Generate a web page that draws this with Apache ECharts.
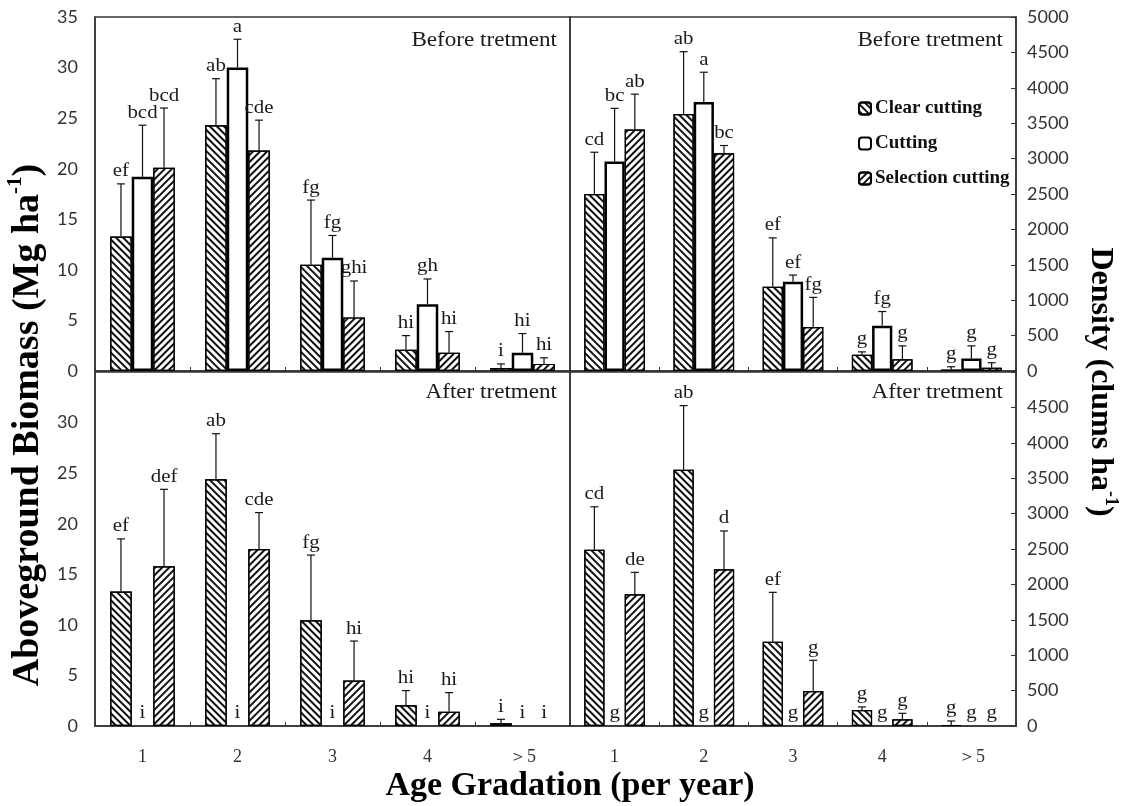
<!DOCTYPE html>
<html>
<head>
<meta charset="utf-8">
<script src="https://cdn.jsdelivr.net/npm/echarts@6/dist/echarts.min.js"></script>
<style>html,body{margin:0;padding:0;background:#fff;}#c{width:1130px;height:806px;}</style>
</head>
<body>
<div id="c"></div>
<script>
// ---------------- DATA ----------------
const categories = ['1', '2', '3', '4', '\uFF1E5'];
const treatments = ['Clear cutting', 'Cutting', 'Selection cutting'];
const biomassTicks = [0, 5, 10, 15, 20, 25, 30, 35];
const densityTicks = [0, 500, 1000, 1500, 2000, 2500, 3000, 3500, 4000, 4500, 5000];

// Before treatment - aboveground biomass (Mg ha-1)
const bioBeforeClear = [13.3, 24.3, 10.5, 2.1, 0.3];
const bioBeforeClearSd = [5.2, 4.6, 6.4, 1.4, 0.4];
const bioBeforeClearLet = ['ef', 'ab', 'fg', 'hi', 'i'];
const bioBeforeCut = [19.2, 30.0, 11.2, 6.6, 1.8];
const bioBeforeCutSd = [5.1, 2.8, 2.2, 2.5, 1.9];
const bioBeforeCutLet = ['bcd', 'a', 'fg', 'gh', 'hi'];
const bioBeforeSel = [20.1, 21.8, 5.3, 1.8, 0.7];
const bioBeforeSelSd = [5.9, 3.0, 3.6, 2.1, 0.6];
const bioBeforeSelLet = ['bcd', 'cde', 'ghi', 'hi', 'hi'];

// Before treatment - density (clums ha-1)
const denBeforeClear = [2500, 3630, 1190, 230, 20];
const denBeforeClearSd = [590, 880, 690, 40, 40];
const denBeforeClearLet = ['cd', 'ab', 'ef', 'g', 'g'];
const denBeforeCut = [2960, 3800, 1260, 640, 175];
const denBeforeCutSd = [750, 420, 95, 200, 180];
const denBeforeCutLet = ['bc', 'a', 'ef', 'fg', 'g'];
const denBeforeSel = [3410, 3075, 620, 165, 47];
const denBeforeSelSd = [500, 110, 420, 190, 70];
const denBeforeSelLet = ['ab', 'bc', 'fg', 'g', 'g'];

// After treatment - aboveground biomass
const bioAfterClear = [13.3, 24.4, 10.45, 2.05, 0.26];
const bioAfterClearSd = [5.2, 4.5, 6.45, 1.45, 0.4];
const bioAfterClearLet = ['ef', 'ab', 'fg', 'hi', 'i'];
const bioAfterCut = [0, 0, 0, 0, 0];
const bioAfterCutSd = [0, 0, 0, 0, 0];
const bioAfterCutLet = ['i', 'i', 'i', 'i', 'i'];
const bioAfterSel = [15.8, 17.5, 4.5, 1.4, 0];
const bioAfterSelSd = [7.6, 3.6, 3.9, 1.9, 0];
const bioAfterSelLet = ['def', 'cde', 'hi', 'hi', 'i'];

// After treatment - density
const denAfterClear = [2490, 3620, 1190, 226, 14];
const denAfterClearSd = [606, 905, 698, 43, 57];
const denAfterClearLet = ['cd', 'ab', 'ef', 'g', 'g'];
const denAfterCut = [0, 0, 0, 0, 0];
const denAfterCutSd = [0, 0, 0, 0, 0];
const denAfterCutLet = ['g', 'g', 'g', 'g', 'g'];
const denAfterSel = [1860, 2215, 495, 94, 0];
const denAfterSelSd = [310, 540, 433, 85, 0];
const denAfterSelLet = ['de', 'd', 'g', 'g', 'g'];

// ---------------- CHART ----------------
const GAP = 0.32;
const SERIF = '"Liberation Serif", "Times New Roman", serif';
const SANS = 'Lato, "Open Sans", sans-serif';
const INK = '#1a1a1a';

const panels = [
  {grid: 0, sets: [[bioBeforeClear, bioBeforeClearSd, bioBeforeClearLet], [bioBeforeCut, bioBeforeCutSd, bioBeforeCutLet], [bioBeforeSel, bioBeforeSelSd, bioBeforeSelLet]]},
  {grid: 1, sets: [[denBeforeClear, denBeforeClearSd, denBeforeClearLet], [denBeforeCut, denBeforeCutSd, denBeforeCutLet], [denBeforeSel, denBeforeSelSd, denBeforeSelLet]]},
  {grid: 2, sets: [[bioAfterClear, bioAfterClearSd, bioAfterClearLet], [bioAfterCut, bioAfterCutSd, bioAfterCutLet], [bioAfterSel, bioAfterSelSd, bioAfterSelLet]]},
  {grid: 3, sets: [[denAfterClear, denAfterClearSd, denAfterClearLet], [denAfterCut, denAfterCutSd, denAfterCutLet], [denAfterSel, denAfterSelSd, denAfterSelLet]]}
];

function barStyle(k) {
  if (k === 1) return {color: '#fff', borderColor: '#000', borderWidth: 2.5};
  return {
    color: '#fff', borderColor: '#000', borderWidth: 1.2,
    decal: {symbol: 'rect', symbolSize: 1, dashArrayX: [1, 0], dashArrayY: [2, 3],
            rotation: k === 0 ? Math.PI / 4 : -Math.PI / 4, color: '#111'}
  };
}

const series = [];
panels.forEach(function (p) {
  p.sets.forEach(function (set, k) {
    series.push({
      type: 'bar', name: treatments[k], xAxisIndex: p.grid, yAxisIndex: p.grid,
      data: set[0].map(function (v) { return v === 0 ? null : v; }),
      barGap: '0%', barCategoryGap: (GAP * 100) + '%',
      itemStyle: barStyle(k), z: 2, silent: true
    });
  });
  p.sets.forEach(function (set, k) {
    const letters = set[2];
    series.push({
      type: 'custom', xAxisIndex: p.grid, yAxisIndex: p.grid, z: 4, silent: true,
      data: set[0].map(function (v, i) { return [i, v, v + set[1][i]]; }),
      encode: {x: 0, y: [1, 2]},
      renderItem: function (params, api) {
        const ci = api.value(0), mean = api.value(1), top = api.value(2);
        const b = api.coord([ci, mean]);
        const t = api.coord([ci, top]);
        const band = api.size([1, 0])[0];
        const bw = band * (1 - GAP) / 3;
        const x = b[0] + (k - 1) * bw;
        const children = [];
        if (top > mean) {
          children.push({type: 'line', shape: {x1: x, y1: b[1], x2: x, y2: t[1]}, style: {stroke: '#111', lineWidth: 1.2}});
          children.push({type: 'line', shape: {x1: x - 4, y1: t[1], x2: x + 4, y2: t[1]}, style: {stroke: '#111', lineWidth: 1.2}});
        }
        children.push({type: 'text', x: x, y: Math.min(b[1], t[1]) - 3, scaleX: 1.1,
          style: {text: letters[params.dataIndex], x: 0, y: 0, align: 'center', verticalAlign: 'bottom',
                  font: '19px ' + SERIF, fill: INK}});
        return {type: 'group', children: children};
      }
    });
  });
});

const grids = [
  {left: 95, top: 17, width: 475, height: 354},
  {left: 570, top: 17, width: 446, height: 354},
  {left: 95, top: 372, width: 475, height: 354},
  {left: 570, top: 372, width: 446, height: 354}
].map(function (g) { return Object.assign({show: true, borderColor: '#333', borderWidth: 1.5, backgroundColor: 'transparent'}, g); });

const xAxes = [0, 1, 2, 3].map(function (i) {
  return {
    type: 'category', gridIndex: i, data: categories,
    axisLine: {lineStyle: {color: '#333', width: 1.5}},
    axisTick: {show: true, inside: true, length: 4, lineStyle: {color: '#333'}},
    axisLabel: {show: i >= 2, margin: 22, fontFamily: SERIF, fontSize: 18, color: '#333'}
  };
});

function yAxis(i) {
  const bio = (i % 2 === 0);
  const ticks = bio ? biomassTicks : densityTicks;
  const max = ticks[ticks.length - 1];
  return {
    type: 'value', gridIndex: i, min: 0, max: max, interval: ticks[1] - ticks[0],
    position: bio ? 'left' : 'right',
    splitLine: {show: false},
    axisLine: {show: true, lineStyle: {color: '#333', width: 1.5}},
    axisTick: {show: !bio, inside: true, length: 5, lineStyle: {color: '#333'}},
    axisLabel: {
      margin: bio ? 17 : 11, fontFamily: SANS, fontSize: 18, color: '#333',
      formatter: function (v) { return (i >= 2 && v === max) ? '' : String(v); }
    }
  };
}

const panelTitles = [
  {x: 557, y: 40, t: 'Before tretment'},
  {x: 1003, y: 40, t: 'Before tretment'},
  {x: 557, y: 392, t: 'After tretment'},
  {x: 1003, y: 392, t: 'After tretment'}
].map(function (o) {
  return {type: 'text', x: o.x, y: o.y, scaleX: 1.1, z: 10,
    style: {text: o.t, x: 0, y: 0, align: 'right', verticalAlign: 'middle', font: '21px ' + SERIF, fill: INK}};
});

const titleRich = function (size) {
  return {
    n: {fontFamily: SERIF, fontWeight: 'bold', fontSize: size, lineHeight: size * 1.2, color: '#000'},
    s: {fontFamily: SERIF, fontWeight: 'bold', fontSize: Math.round(size * 0.55), lineHeight: size * 1.2, verticalAlign: 'top', color: '#000'}
  };
};

const option = {
  animation: false,
  backgroundColor: '#fff',
  grid: grids,
  xAxis: xAxes,
  yAxis: [0, 1, 2, 3].map(yAxis),
  legend: {
    data: treatments, orient: 'vertical', left: 853, top: 94,
    itemWidth: 12, itemHeight: 12, itemGap: 16, selectedMode: false,
    textStyle: {fontFamily: SERIF, fontWeight: 'bold', fontSize: 19, color: '#111', padding: [0, 0, 0, -1]}
  },
  graphic: panelTitles.concat([
    {type: 'text', x: 28, y: 425, rotation: Math.PI / 2, z: 10,
      style: {text: '{n|Aboveground Biomass (Mg ha}{s|-1}{n|)}', rich: titleRich(38), align: 'center', verticalAlign: 'middle'}},
    {type: 'text', x: 1100, y: 382, rotation: -Math.PI / 2, z: 10,
      style: {text: '{n|Density (clums ha}{s|-1}{n|)}', rich: titleRich(32), align: 'center', verticalAlign: 'middle'}},
    {type: 'text', x: 570, y: 786, z: 10,
      style: {text: 'Age Gradation (per year)', font: 'bold 34px ' + SERIF, fill: '#000', align: 'center', verticalAlign: 'middle'}}
  ]),
  series: series
};

const chart = echarts.init(document.getElementById('c'), null, {renderer: 'canvas'});
chart.setOption(option);
</script>
</body>
</html>
